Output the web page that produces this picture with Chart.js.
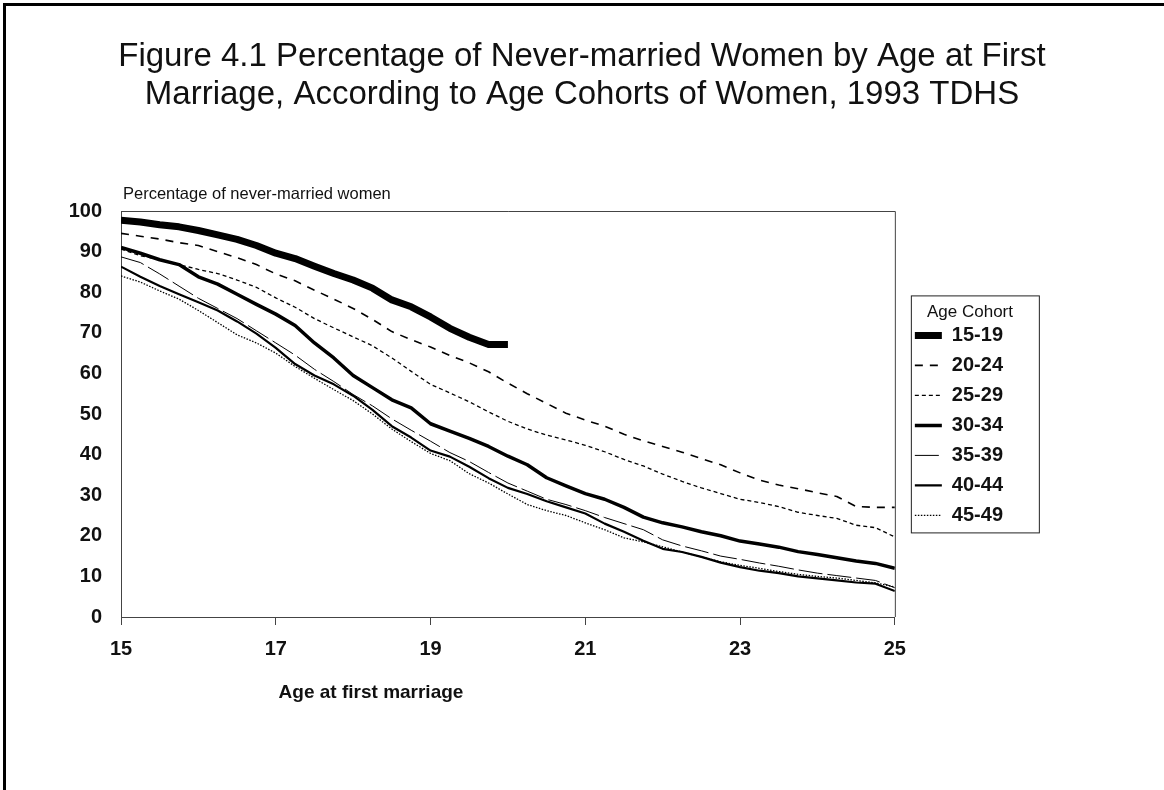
<!DOCTYPE html>
<html>
<head>
<meta charset="utf-8">
<title>Figure 4.1</title>
<script src="https://cdn.jsdelivr.net/npm/chart.js@4.4.1/dist/chart.umd.min.js"></script>
<style>
  html, body { margin: 0; padding: 0; background: #fff; }
  #wrap { position: relative; width: 1164px; height: 790px; overflow: hidden; }
  #frame { position: absolute; left: 3px; top: 3px; width: 1200px; height: 820px;
           border-left: 3px solid #000; border-top: 3px solid #000; }
  canvas { position: absolute; left: 0; top: 0; }
</style>
</head>
<body>
<div id="wrap">
  <canvas id="chart" width="1164" height="790"></canvas>
  <div id="frame"></div>
</div>
<script>
// age at first marriage, quarter-year steps
const ages = [15, 15.25, 15.5, 15.75, 16, 16.25, 16.5, 16.75, 17, 17.25, 17.5, 17.75,
  18, 18.25, 18.5, 18.75, 19, 19.25, 19.5, 19.75, 20, 20.25, 20.5, 20.75, 21, 21.25,
  21.5, 21.75, 22, 22.25, 22.5, 22.75, 23, 23.25, 23.5, 23.75, 24, 24.25, 24.5, 24.75, 25];

// percentage never married, by cohort
const c1519 = [97.7, 97.3, 96.6, 96.1, 95.2, 94.1, 93.0, 91.5, 89.6, 88.3, 86.4, 84.6,
  83.0, 81.0, 78.1, 76.4, 73.9, 71.1, 68.9, 67.1, 67.1];
const c2024 = [94.5, 93.8, 93.1, 92.2, 91.5, 90.0, 88.5, 86.8, 84.5, 82.8, 80.5, 78.3,
  76.0, 73.3, 70.3, 68.3, 66.5, 64.4, 62.6, 60.4, 57.6, 55.0, 52.6, 50.2, 48.5, 47.0,
  45.0, 43.4, 42.0, 40.6, 39.0, 37.5, 35.5, 33.7, 32.5, 31.6, 30.6, 29.7, 27.2, 27.0, 27.0];
const c2529 = [90.6, 89.0, 88.0, 86.8, 85.6, 84.6, 83.0, 81.2, 78.6, 76.3, 73.5, 71.2,
  69.0, 66.8, 63.8, 60.5, 57.3, 55.2, 53.0, 50.5, 48.2, 46.3, 44.8, 43.6, 42.3, 40.7,
  38.8, 37.2, 35.2, 33.4, 31.8, 30.4, 29.0, 28.2, 27.2, 25.8, 25.0, 24.3, 22.6, 22.0, 19.7];
const c3034 = [91.0, 89.6, 88.0, 86.8, 83.8, 82.0, 79.5, 77.0, 74.6, 71.8, 67.5, 63.8,
  59.5, 56.5, 53.5, 51.5, 47.6, 45.8, 44.0, 42.0, 39.6, 37.5, 34.3, 32.3, 30.4, 29.0,
  27.0, 24.6, 23.2, 22.2, 21.0, 20.0, 18.7, 18.0, 17.2, 16.1, 15.4, 14.6, 13.8, 13.2, 12.0];
const c3539 = [88.7, 87.3, 84.5, 81.5, 78.5, 76.0, 73.5, 70.5, 67.5, 64.5, 61.0, 58.0,
  54.8, 52.0, 48.8, 46.0, 43.3, 40.5, 38.3, 35.6, 33.0, 31.0, 29.0, 27.7, 26.2, 24.5,
  23.0, 21.5, 19.0, 17.5, 16.3, 15.0, 14.2, 13.3, 12.5, 11.6, 10.8, 10.2, 9.6, 9.0, 7.2];
const c4044 = [86.3, 83.8, 81.5, 79.5, 77.5, 75.5, 72.8, 69.8, 66.3, 62.3, 59.5, 57.3,
  54.5, 51.0, 47.0, 44.2, 41.0, 39.5, 37.0, 34.2, 31.8, 30.3, 28.5, 27.0, 25.5, 23.0,
  21.0, 18.8, 16.8, 16.0, 14.8, 13.4, 12.3, 11.4, 10.8, 10.0, 9.5, 9.0, 8.5, 8.2, 6.4];
const c4549 = [84.0, 82.5, 80.3, 78.3, 75.5, 72.5, 69.5, 67.5, 65.0, 61.7, 58.8, 56.0,
  53.3, 50.0, 46.3, 43.2, 40.3, 38.5, 35.3, 33.0, 30.3, 27.7, 26.2, 25.0, 23.2, 21.5,
  19.5, 18.5, 17.3, 16.0, 14.8, 13.6, 12.7, 12.0, 11.2, 10.5, 10.0, 9.6, 9.0, 8.4, 7.4];

const cohorts = ['15-19', '20-24', '25-29', '30-34', '35-39', '40-44', '45-49'];
const seriesValues = [c1519, c2024, c2529, c3034, c3539, c4044, c4549];

const titleLines = ['Figure 4.1 Percentage of Never-married Women by Age at First',
  'Marriage, According to Age Cohorts of Women, 1993 TDHS'];
const yTitle = 'Percentage of never-married women';
const xTitle = 'Age at first marriage';

const FONT = '"Liberation Sans", Arial, Helvetica, sans-serif';
const INK = '#111';

// line look per cohort
const styles = [
  { width: 7, dash: [] },
  { width: 1.6, dash: [8, 7] },
  { width: 1.3, dash: [4, 3] },
  { width: 3.5, dash: [] },
  { width: 1, dash: [24, 5] },
  { width: 2.2, dash: [] },
  { width: 1.3, dash: [1.5, 1.5] }
];

const datasets = cohorts.map((name, i) => ({
  label: name,
  data: seriesValues[i].map((v, j) => ({ x: ages[j], y: v })),
  borderColor: '#000',
  backgroundColor: '#000',
  borderWidth: styles[i].width,
  borderDash: styles[i].dash,
  borderJoinStyle: 'round',
  pointRadius: 0,
  fill: false,
  tension: 0
}));

// text, plot frame and legend frame
const extras = {
  id: 'extras',
  afterDraw(chart) {
    const { ctx, chartArea: a, legend } = chart;
    ctx.save();
    ctx.fillStyle = INK;
    ctx.textBaseline = 'middle';
    ctx.textAlign = 'center';
    ctx.font = '33px ' + FONT;
    ctx.fillText(titleLines[0], chart.width / 2, 57);
    ctx.fillText(titleLines[1], chart.width / 2, 95);

    ctx.textAlign = 'left';
    ctx.font = '16.5px ' + FONT;
    ctx.fillText(yTitle, a.left + 2, a.top - 17);

    ctx.textAlign = 'center';
    ctx.font = 'bold 19px ' + FONT;
    ctx.fillText(xTitle, 371, a.bottom + 76);

    ctx.strokeStyle = '#444';
    ctx.lineWidth = 1;
    ctx.beginPath();
    ctx.moveTo(a.left, a.top + 0.5);
    ctx.lineTo(a.right + 0.5, a.top + 0.5);
    ctx.lineTo(a.right + 0.5, a.bottom);
    ctx.stroke();

    const hb = legend.legendHitBoxes;
    const last = hb[hb.length - 1];
    const top = hb[0].top - 30;
    const bottom = last.top + last.height + 7;
    const left = hb[0].left - 4;
    ctx.strokeStyle = '#222';
    ctx.strokeRect(left + 0.5, top + 0.5, 128, bottom - top);
    ctx.restore();
  }
};

new Chart(document.getElementById('chart'), {
  type: 'line',
  data: { datasets },
  options: {
    responsive: false,
    animation: false,
    layout: { padding: { left: 0, right: 151, top: 211, bottom: 0 } },
    plugins: {
      title: { display: false },
      tooltip: { enabled: false },
      legend: {
        position: 'right',
        align: 'start',
        onClick: null,
        title: {
          display: true,
          text: 'Age Cohort',
          position: 'end',
          color: INK,
          font: { family: FONT, size: 17 },
          padding: { top: 93, bottom: -9 }
        },
        labels: {
          usePointStyle: true,
          pointStyle: 'line',
          pointStyleWidth: 27,
          color: INK,
          font: { family: FONT, size: 20, weight: 'bold' },
          padding: 10,
          generateLabels: chart => chart.data.datasets.map((ds, i) => ({
            text: ds.label,
            fillStyle: '#000',
            strokeStyle: '#000',
            fontColor: INK,
            lineWidth: ds.borderWidth,
            lineDash: ds.borderDash,
            lineCap: 'butt',
            pointStyle: 'line',
            hidden: false,
            datasetIndex: i
          }))
        }
      }
    },
    scales: {
      x: {
        type: 'linear',
        min: 15,
        max: 25,
        afterFit: s => { s.height = 173; },
        ticks: { stepSize: 2, color: INK, padding: 12, font: { family: FONT, size: 20, weight: 'bold' } },
        grid: { drawOnChartArea: false, drawTicks: true, tickLength: 8, color: '#444' },
        border: { color: '#444', width: 1 }
      },
      y: {
        min: 0,
        max: 100,
        afterFit: s => { s.width = 121; },
        ticks: { stepSize: 10, color: INK, padding: 11, font: { family: FONT, size: 20, weight: 'bold' } },
        grid: { display: false },
        border: { color: '#444', width: 1 }
      },
      // empty spacer between plot and legend
      gap: {
        position: 'right',
        display: true,
        afterFit: s => { s.width = 10; },
        ticks: { display: false },
        grid: { display: false, drawTicks: false },
        border: { display: false }
      }
    }
  },
  plugins: [extras]
});
</script>
</body>
</html>
